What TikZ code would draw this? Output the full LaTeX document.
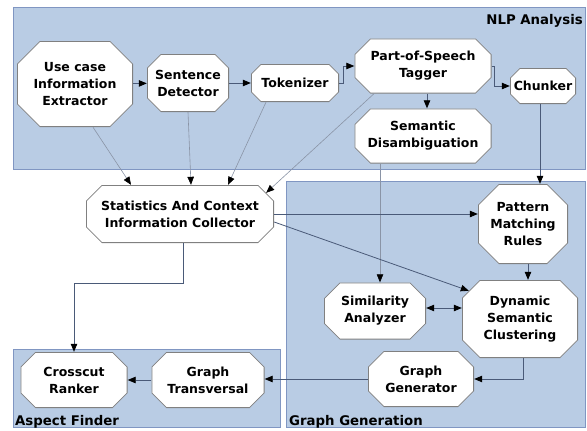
\documentclass[tikz,border=0pt]{standalone}
\usepackage{fontspec}
\newfontfamily\dvs{DejaVu Sans}
\usetikzlibrary{arrows.meta}
\definecolor{panelfill}{HTML}{B9CCE4}
\definecolor{paneldraw}{HTML}{8096C2}
\definecolor{nodegray}{HTML}{808080}
\definecolor{linedark}{HTML}{4A5A78}
\definecolor{linelight}{HTML}{8A94A6}
\tikzset{
  panel/.style={fill=panelfill,draw=paneldraw,line width=0.8pt},
  oct/.style n args={3}{rectangle, minimum width=#1, minimum height=#2, inner sep=0pt,
    align=center, font=\dvs\bfseries\fontsize{12.5}{17}\selectfont,
    path picture={
      \draw[nodegray, line width=0.8pt, fill=white]
        ([xshift=#3, yshift=-0.4pt]path picture bounding box.north west) --
        ([xshift=-#3, yshift=-0.4pt]path picture bounding box.north east) --
        ([xshift=-0.4pt, yshift=-#3]path picture bounding box.north east) --
        ([xshift=-0.4pt, yshift=#3]path picture bounding box.south east) --
        ([xshift=-#3, yshift=0.4pt]path picture bounding box.south east) --
        ([xshift=#3, yshift=0.4pt]path picture bounding box.south west) --
        ([xshift=0.4pt, yshift=#3]path picture bounding box.south west) --
        ([xshift=0.4pt, yshift=-#3]path picture bounding box.north west) -- cycle;
    }},
  plabel/.style={font=\dvs\bfseries\fontsize{13.3}{16}\selectfont, inner sep=0pt},
  tip/.tip={Triangle[length=8pt,width=6.5pt,color=black,fill=black]},
  conn/.style={draw=linedark, line width=0.8pt, -tip},
  thin/.style={draw=linelight, line width=0.6pt, -tip},
}
\begin{document}
\begin{tikzpicture}[x=1pt,y=-1pt]
\useasboundingbox (0,0) rectangle (587,431);
\fill[white] (0,0) rectangle (587,431);
% panels
\draw[panel] (13,7) rectangle (585,169);
\draw[panel] (286,181) rectangle (585,427);
\draw[panel] (13,349) rectangle (280,427);
\node[plabel, anchor=base east] (lnlp) at (583,24) {NLP Analysis};
\node[plabel, anchor=base west] (lasp) at (15,425) {Aspect Finder};
\node[plabel, anchor=base west] (lgg) at (289,425) {Graph Generation};
% nodes
\node[oct={116pt}{86pt}{23pt}] (uc) at (75,84) {Use case\\Information\\Extractor};
\node[oct={82pt}{58pt}{14pt}] (sd) at (188,83) {Sentence\\Detector};
\node[oct={88pt}{38pt}{10pt}] (tok) at (295,83) {Tokenizer};
\node[oct={137pt}{55pt}{16pt}] (pos) at (423,66) {Part-of-Speech\\Tagger};
\node[oct={66pt}{36pt}{10pt}] (chunk) at (543,86) {Chunker};
\node[oct={137pt}{55pt}{16pt}] (sem) at (423,136) {Semantic\\Disambiguation};
\node[oct={188pt}{58pt}{16pt}] (stats) at (180,214) {Statistics And Context\\Information Collector};
\node[oct={90pt}{80pt}{21pt}] (pat) at (523,224) {Pattern\\Matching\\Rules};
\node[oct={102pt}{57pt}{16pt}] (sim) at (375,311) {Similarity\\Analyzer};
\node[oct={116pt}{78pt}{18pt}] (dyn) at (520,319) {Dynamic\\Semantic\\Clustering};
\node[oct={106pt}{56pt}{16pt}] (gg) at (421,379) {Graph\\Generator};
\node[oct={107pt}{56pt}{15pt}] (cr) at (74,380) {Crosscut\\Ranker};
\node[oct={113pt}{56pt}{15pt}] (gt) at (208,380) {Graph\\Transversal};
% connectors
\draw[conn] (uc) -- (sd);
\draw[conn] (sd) -- (tok);
\draw[conn] (tok.east) -- ++(4,0) |- (pos.west);
\draw[conn] (pos.east) -- ++(3,0) |- (chunk.west);
\draw[conn] ([xshift=4pt]pos.south) -- ([xshift=4pt]pos.south |- sem.north);
\draw[conn] ([xshift=-3pt]chunk.south) -- ([xshift=-3pt]chunk.south |- pat.north);
\path ([xshift=5pt]sim.north) coordinate (simtop);
\draw[thin] (sem.south -| simtop) -- (simtop);
\draw[thin] ([xshift=18pt]uc.south) -- ([xshift=-49pt]stats.north);
\draw[thin] (sd.south) -- ([xshift=11pt]stats.north);
\draw[thin] ([xshift=-29pt]tok.south) -- ([xshift=48pt]stats.north);
\draw[thin] ([xshift=-49pt]pos.south) -- ([xshift=-8pt,yshift=-8pt]stats.north east);
\draw[conn] (stats.east) -- (stats.east -| pat.west);
\draw[conn] ([yshift=-8pt]stats.east) -- ([xshift=7pt,yshift=-11pt]dyn.north west);
\draw[conn] ([xshift=5pt]pat.south) -- ([xshift=5pt]pat.south |- dyn.north);
\draw[conn, tip-tip] ([yshift=3pt]sim.east) -- ([yshift=3pt]sim.east -| dyn.west);
\draw[conn] ([xshift=3pt]dyn.south) |- (gg.east);
\draw[conn] (gg.west) -- (gg.west -| gt.east);
\draw[conn] (gt.west) -- (gt.west -| cr.east);
\draw[conn] ([xshift=3pt]stats.south) -- ++(0,40) -| (cr.north);
\end{tikzpicture}
\end{document}
